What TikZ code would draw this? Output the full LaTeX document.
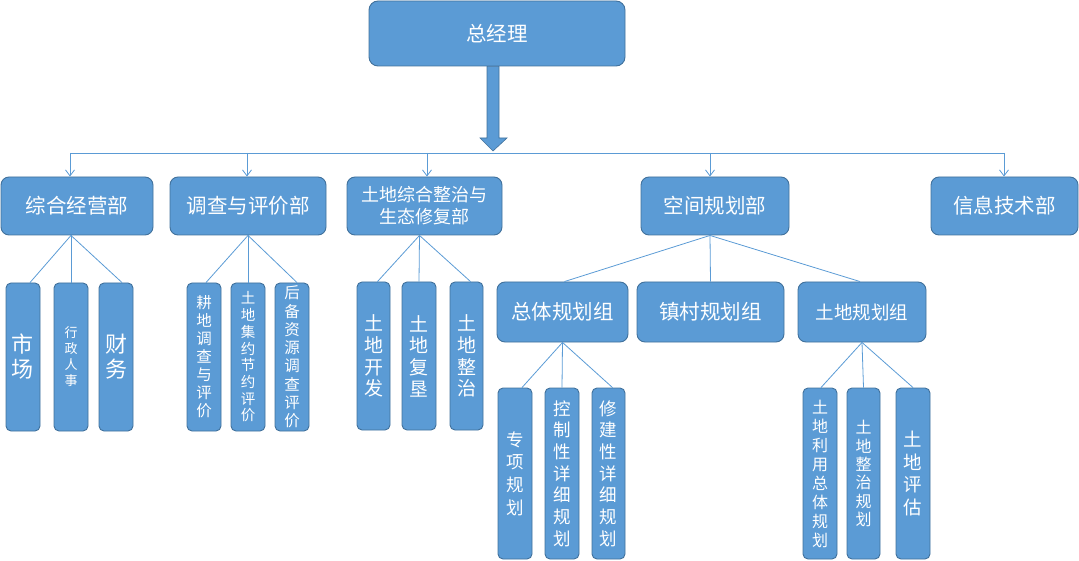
\documentclass[tikz,border=0pt]{standalone}
\usepackage{fontspec}
\newfontfamily\cjk{Noto Sans CJK SC}
\usetikzlibrary{arrows.meta}
\definecolor{boxblue}{HTML}{5B9BD5}
\definecolor{edgeblue}{HTML}{41719C}
\begin{document}
\begin{tikzpicture}[x=1pt,y=-1pt,
  base/.style={draw=edgeblue, fill=boxblue, line width=0.9pt, text=white, inner sep=0pt, align=center},
  hbox/.style={base, rounded corners=8pt, minimum height=58pt},
  gbox/.style={base, rounded corners=8pt, minimum height=60pt},
  vbox/.style={base, rounded corners=5pt, minimum width=34pt},
  conn/.style={draw=boxblue, line width=0.8pt},
  busarrow/.style={draw=boxblue, line width=0.8pt, -{Straight Barb[length=6pt,width=9pt]}},
  f/.style={font={\cjk\fontsize{#1}{#1}\selectfont}},
  fv/.style 2 args={font={\cjk\fontsize{#1}{#2}\selectfont}}
]
\useasboundingbox (0,0) rectangle (1079,561);

% top
\node[base, rounded corners=9pt, minimum width=256pt, minimum height=65pt, f=20.5] (gm) at (497,33.5) {总经理};

% block arrow
\coordinate (tip) at (493,151);
\fill[boxblue, draw=edgeblue, line width=0.6pt]
  (gm.south -| 487,0) -- (487,138) -- (480,138) -- (tip) -- (507,138) -- (499,138) -- (gm.south -| 499,0) -- cycle;

% departments
\node[hbox, minimum width=152pt, f=20.5] (d1) at (77,206) {综合经营部};
\node[hbox, minimum width=156pt, f=20.5] (d2) at (248,206) {调查与评价部};
\node[hbox, minimum width=155pt, fv={18}{22}] (d3) at (424.5,206) {土地综合整治与\\生态修复部};
\node[hbox, minimum width=148pt, f=20.5] (d4) at (715,206) {空间规划部};
\node[hbox, minimum width=147pt, f=20.5] (d5) at (1004.5,206) {信息技术部};

% bus
\coordinate (b1) at (70,153);
\coordinate (b2) at (247,153);
\coordinate (b3) at (427,153);
\coordinate (b4) at (710,153);
\coordinate (b5) at (1004,153);
\draw[conn] (b1) -- (b5);
\foreach \i in {1,...,5}{
  \draw[busarrow] (b\i) -- (b\i |- d\i.north);
}

% subs of d1
\node[vbox, minimum height=148pt, fv={22}{25}] (s11) at (23,357) {市\\场};
\node[vbox, minimum height=148pt, fv={13}{16}] (s12) at (71,357) {行\\政\\人\\事};
\node[vbox, minimum height=148pt, fv={22}{25}] (s13) at (116,357) {财\\务};
\draw[conn] ([xshift=-6pt]d1.south) -- ([xshift=7pt]s11.north);
\draw[conn] ([xshift=-6pt]d1.south) -- (s12.north);
\draw[conn] ([xshift=-6pt]d1.south) -- ([xshift=6pt]s13.north);

% subs of d2
\node[vbox, minimum height=148pt, fv={15.5}{18}] (s21) at (204,357) {耕\\地\\调\\查\\与\\评\\价};
\node[vbox, minimum height=148pt, fv={14.5}{16.7}] (s22) at (248,357) {土\\地\\集\\约\\节\\约\\评\\价};
\node[vbox, minimum height=148pt, fv={15.5}{18.3}] (s23) at (292,357) {后\\备\\资\\源\\调\\查\\评\\价};
\draw[conn] (d2.south) -- ([xshift=2pt]s21.north);
\draw[conn] (d2.south) -- (s22.north);
\draw[conn] (d2.south) -- ([xshift=5pt]s23.north);

% subs of d3
\node[vbox, minimum width=33pt, minimum height=148pt, fv={19}{21.7}] (s31) at (373.5,356) {土\\地\\开\\发};
\node[vbox, minimum height=148pt, fv={19}{21.7}] (s32) at (419,356) {土\\地\\复\\垦};
\node[vbox, minimum width=33pt, minimum height=148pt, fv={19}{21.7}] (s33) at (466.5,356) {土\\地\\整\\治};
\draw[conn] ([xshift=-5pt]d3.south) -- ([xshift=4pt]s31.north);
\draw[conn] ([xshift=-5pt]d3.south) -- (s32.north);
\draw[conn] ([xshift=-5pt]d3.south) -- ([xshift=4pt]s33.north);

% groups of d4
\node[gbox, minimum width=131pt, f=20.5] (g1) at (562.5,312) {总体规划组};
\node[gbox, minimum width=147pt, f=20.5] (g2) at (710.5,312) {镇村规划组};
\node[gbox, minimum width=128pt, f=18.5] (g3) at (862,312) {土地规划组};
\draw[conn] ([xshift=-5pt]d4.south) -- ([xshift=2pt]g1.north);
\draw[conn] ([xshift=-5pt]d4.south) -- (g2.north);
\draw[conn] ([xshift=-5pt]d4.south) -- ([xshift=-2pt]g3.north);

% subs of g1
\node[vbox, minimum height=171pt, fv={17.5}{22.7}] (t11) at (515,473.5) {专\\项\\规\\划};
\node[vbox, minimum height=171pt, fv={17.5}{21.7}] (t12) at (562,473.5) {控\\制\\性\\详\\细\\规\\划};
\node[vbox, minimum width=33pt, minimum height=171pt, fv={17.5}{21.7}] (t13) at (608.5,473.5) {修\\建\\性\\详\\细\\规\\划};
\draw[conn] (g1.south) -- ([xshift=7pt]t11.north);
\draw[conn] (g1.south) -- (t12.north);
\draw[conn] (g1.south) -- ([xshift=4pt]t13.north);

% subs of g3
\node[vbox, minimum height=171pt, fv={16}{19}] (t31) at (820,473.5) {土\\地\\利\\用\\总\\体\\规\\划};
\node[vbox, minimum width=33pt, minimum height=171pt, fv={16}{18.3}] (t32) at (863.5,473.5) {土\\地\\整\\治\\规\\划};
\node[vbox, minimum height=171pt, fv={18.5}{22.4}] (t33) at (913,473.5) {土\\地\\评\\估};
\draw[conn] (g3.south) -- ([xshift=1pt]t31.north);
\draw[conn] (g3.south) -- (t32.north);
\draw[conn] (g3.south) -- (t33.north);
\end{tikzpicture}
\end{document}
